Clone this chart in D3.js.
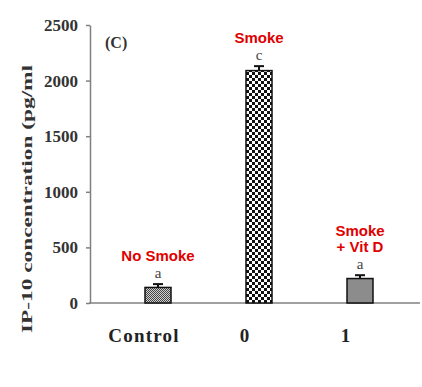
<!DOCTYPE html>
<html>
<head>
<meta charset="utf-8">
<script src="https://cdn.jsdelivr.net/npm/d3@7"></script>
<style>
  body { margin: 0; background: #fff; }
  svg { display: block; }
</style>
</head>
<body>
<script>
const width = 422;
const height = 387;

// data
const categories = ["Control", "0", "1"];
const values = [140, 2090, 220];
const errors = [30, 40, 30];
const letters = ["a", "c", "a"];
const groupLabels = [["No Smoke"], ["Smoke"], ["Smoke", "+ Vit D"]];
const yTicks = [0, 500, 1000, 1500, 2000, 2500];
const fills = ["url(#fine)", "url(#checker)", "#8c8c8c"];

const svg = d3
  .select("body")
  .append("svg")
  .attr("width", width)
  .attr("height", height);

// patterns for the hatched bars
const defs = svg.append("defs");
const fine = defs
  .append("pattern")
  .attr("id", "fine")
  .attr("patternUnits", "userSpaceOnUse")
  .attr("width", 2)
  .attr("height", 2);
fine.append("rect").attr("width", 2).attr("height", 2).attr("fill", "#d0d0d0");
fine.append("rect").attr("width", 1).attr("height", 1).attr("fill", "#444");
fine.append("rect").attr("x", 1).attr("y", 1).attr("width", 1).attr("height", 1).attr("fill", "#444");

const checker = defs
  .append("pattern")
  .attr("id", "checker")
  .attr("patternUnits", "userSpaceOnUse")
  .attr("width", 6)
  .attr("height", 6);
checker.append("rect").attr("width", 6).attr("height", 6).attr("fill", "#fff");
checker.append("rect").attr("width", 3).attr("height", 3).attr("fill", "#111");
checker.append("rect").attr("x", 3).attr("y", 3).attr("width", 3).attr("height", 3).attr("fill", "#111");

const y = d3.scaleLinear().domain([0, 2500]).range([303, 25]);
const x = d3.scalePoint().domain(categories).range([107.5, 410.5]).padding(0.5);
const barW = 26;
const capY = (d, i) => y(d + errors[i]);

// y axis
const yAxis = svg
  .append("g")
  .attr("transform", "translate(90,0)")
  .call(
    d3
      .axisLeft(y)
      .tickValues(yTicks)
      .tickFormat(d3.format("d"))
      .tickSize(4)
      .tickSizeOuter(0)
      .tickPadding(8)
  );
yAxis.select(".domain").attr("stroke", "#808080").attr("stroke-width", 1.5);
yAxis.selectAll(".tick line").attr("stroke", "#808080").attr("stroke-width", 1.5);
yAxis
  .selectAll(".tick text")
  .attr("font-family", "'Liberation Serif', 'Times New Roman', serif")
  .attr("font-weight", "bold")
  .attr("font-size", 17)
  .attr("fill", "#333");

// x axis line
svg
  .append("line")
  .attr("x1", 89)
  .attr("x2", 420)
  .attr("y1", y(0))
  .attr("y2", y(0))
  .attr("stroke", "#808080")
  .attr("stroke-width", 1.5);

// bars
svg
  .append("g")
  .selectAll("rect")
  .data(values)
  .join("rect")
  .attr("x", (d, i) => x(categories[i]) - barW / 2)
  .attr("y", (d) => y(d))
  .attr("width", barW)
  .attr("height", (d) => y(0) - y(d))
  .attr("fill", (d, i) => fills[i])
  .attr("stroke", "#111")
  .attr("stroke-width", 1.5);

// error bars
const err = svg.append("g").attr("stroke", "#111").attr("stroke-width", 2);
err
  .selectAll("line.v")
  .data(values)
  .join("line")
  .attr("class", "v")
  .attr("x1", (d, i) => x(categories[i]))
  .attr("x2", (d, i) => x(categories[i]))
  .attr("y1", (d) => y(d))
  .attr("y2", capY);
err
  .selectAll("line.cap")
  .data(values)
  .join("line")
  .attr("class", "cap")
  .attr("x1", (d, i) => x(categories[i]) - 5)
  .attr("x2", (d, i) => x(categories[i]) + 5)
  .attr("y1", capY)
  .attr("y2", capY);

// significance letters
svg
  .append("g")
  .selectAll("text")
  .data(values)
  .join("text")
  .attr("x", (d, i) => x(categories[i]))
  .attr("y", (d, i) => capY(d, i) - 6)
  .attr("text-anchor", "middle")
  .attr("font-family", "'Liberation Serif', 'Times New Roman', serif")
  .attr("font-size", 15)
  .attr("fill", "#444")
  .text((d, i) => letters[i]);

// red group labels
const red = svg
  .append("g")
  .selectAll("text")
  .data(groupLabels)
  .join("text")
  .attr("x", (d, i) => x(categories[i]))
  .attr("y", (d, i) => capY(values[i], i) - 23 - (d.length - 1) * 16)
  .attr("text-anchor", "middle")
  .attr("font-family", "'Liberation Sans', Arial, sans-serif")
  .attr("font-weight", "bold")
  .attr("font-size", 15)
  .attr("fill", "#e00000");
red
  .selectAll("tspan")
  .data((d) => d)
  .join("tspan")
  .attr("x", function () {
    return this.parentNode.getAttribute("x");
  })
  .attr("dy", (d, i) => (i === 0 ? 0 : 16))
  .text((d) => d);

// category labels
svg
  .append("g")
  .selectAll("text")
  .data(categories)
  .join("text")
  .attr("x", (d) => x(d) - 14)
  .attr("y", 342)
  .attr("text-anchor", "middle")
  .attr("font-family", "'Liberation Serif', 'Times New Roman', serif")
  .attr("font-weight", "bold")
  .attr("font-size", 19)
  .attr("letter-spacing", 1.2)
  .attr("fill", "#222")
  .text((d) => d);

// panel label
svg
  .append("text")
  .attr("x", 105)
  .attr("y", 48)
  .attr("font-family", "'Liberation Serif', 'Times New Roman', serif")
  .attr("font-weight", "bold")
  .attr("font-size", 16)
  .attr("fill", "#333")
  .text("(C)");

// y axis title
svg
  .append("text")
  .attr("transform", "translate(32,199) rotate(-90)")
  .attr("text-anchor", "middle")
  .attr("font-family", "'Liberation Serif', 'Times New Roman', serif")
  .attr("font-weight", "bold")
  .attr("font-size", 15)
  .attr("fill", "#333")
  .attr("textLength", 268)
  .attr("lengthAdjust", "spacingAndGlyphs")
  .text("IP-10 concentration (pg/ml");
</script>
</body>
</html>
